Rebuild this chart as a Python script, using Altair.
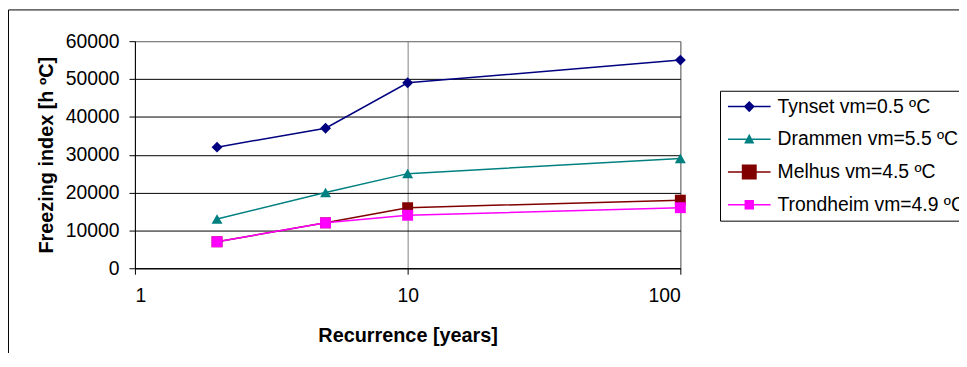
import altair as alt
import pandas as pd

recurrence = [2, 5, 10, 100]
series_names = ["Tynset vm=0.5 ºC", "Drammen vm=5.5 ºC", "Melhus vm=4.5 ºC", "Trondheim vm=4.9 ºC"]
tynset = [32000, 37000, 49000, 55000]
drammen = [13000, 20000, 25000, 29000]
melhus = [7000, 12000, 16000, 18000]
trondheim = [7000, 12000, 14000, 16000]
colors = ["#000080", "#008080", "#800000", "#FF00FF"]
y_ticks = [0, 10000, 20000, 30000, 40000, 50000, 60000]
x_ticks = [1, 10, 100]

# marker shapes (unit square -1..1) and sizes for the plotted points
marker_paths = [
    "M0,-1L1,0L0,1L-1,0Z",
    "M0,-0.9L1,0.85L-1,0.85Z",
    "M-1,-1H1V1H-1Z",
    "M-1,-1H1V1H-1Z",
]
marker_sizes = [121, 121, 169, 81]

# legend symbols: a line segment with the marker in the middle
seg = "M-1,-0.035H1V0.035H-1Z"
legend_paths = [
    seg + "M0,-0.26L0.26,0L0,0.26L-0.26,0Z",
    seg + "M0,-0.26L0.24,0.2L-0.24,0.2Z",
    seg + "M-0.35,-0.35H0.35V0.35H-0.35Z",
    seg + "M-0.22,-0.22H0.22V0.22H-0.22Z",
]

rows = []
for name, vals in zip(series_names, [tynset, drammen, melhus, trondheim]):
    for r, v in zip(recurrence, vals):
        rows.append({"series": name, "recurrence": r, "index": v})
df = pd.DataFrame(rows)

FONT = "Liberation Sans"

x_enc = alt.X(
    "recurrence:Q",
    scale=alt.Scale(type="log", domain=[1, 100], nice=False),
    axis=alt.Axis(
        values=x_ticks, format="d", title="Recurrence [years]",
        grid=True, gridColor="#808080", tickSize=6, labelPadding=13,
        titlePadding=20,
    ),
)
y_enc = alt.Y(
    "index:Q",
    scale=alt.Scale(domain=[0, 60000], nice=False),
    axis=alt.Axis(
        values=y_ticks, format="d", title="Freezing index [h ºC]",
        grid=True,
        gridColor={"condition": {"test": "datum.value === 60000", "value": "#808080"}, "value": "#000000"},
        tickSize=6, labelPadding=10, titlePadding=9,
    ),
)

color_scale = alt.Scale(domain=series_names, range=colors)

base = alt.Chart(df)

lines = base.mark_line(strokeWidth=1.5).encode(
    x=x_enc, y=y_enc,
    color=alt.Color("series:N", scale=color_scale, legend=None),
)

points = base.mark_point(filled=True, opacity=1).encode(
    x=x_enc, y=y_enc,
    color=alt.Color("series:N", scale=color_scale, legend=None),
    shape=alt.Shape("series:N", scale=alt.Scale(domain=series_names, range=marker_paths), legend=None),
    size=alt.Size("series:N", scale=alt.Scale(domain=series_names, range=marker_sizes), legend=None),
)

leg = alt.Legend(
    title=None, orient="none", legendX=590, legendY=50,
    strokeColor="#000000", fillColor="#ffffff", padding=6,
    symbolSize=1849, clipHeight=20, rowPadding=13, symbolOffset=2,
    labelFont=FONT, labelFontSize=19.5, labelColor="#000000", labelOffset=7,
    labelLimit=400, symbolOpacity=1, symbolStrokeWidth=0,
)

legend_layer = base.mark_point(filled=True, opacity=0).encode(
    x=x_enc, y=y_enc,
    fill=alt.Fill("series:N", scale=alt.Scale(domain=series_names, range=colors), legend=leg),
    shape=alt.Shape("series:N", scale=alt.Scale(domain=series_names, range=legend_paths), legend=leg),
)

frame_df = pd.DataFrame({"k": [0]})
top_border = alt.Chart(frame_df).mark_rule(color="#000000", strokeWidth=1).encode(
    x=alt.value(-127.5), x2=alt.value(840), y=alt.value(-31.5)
)
left_border = alt.Chart(frame_df).mark_rule(color="#000000", strokeWidth=1).encode(
    x=alt.value(-127.5), y=alt.value(-31.5), y2=alt.value(320)
)

chart = alt.layer(lines, points, legend_layer, top_border, left_border).resolve_scale(
    shape="independent", fill="independent", size="independent"
).properties(
    width=550, height=229,
    padding={"left": 128, "top": 32, "right": 281, "bottom": 84},
    autosize=alt.AutoSizeParams(type="none"),
    background="#ffffff",
).configure_view(
    stroke="#808080", strokeWidth=1
).configure_axis(
    labelFont=FONT, labelFontSize=19.5, labelColor="#000000",
    titleFont=FONT, titleFontSize=20, titleFontWeight="bold", titleColor="#000000",
    domainColor="#000000", tickColor="#000000", domainWidth=1, tickWidth=1, gridWidth=1,
)

chart.save("out.html", embed_options={"renderer": "svg", "actions": False})
